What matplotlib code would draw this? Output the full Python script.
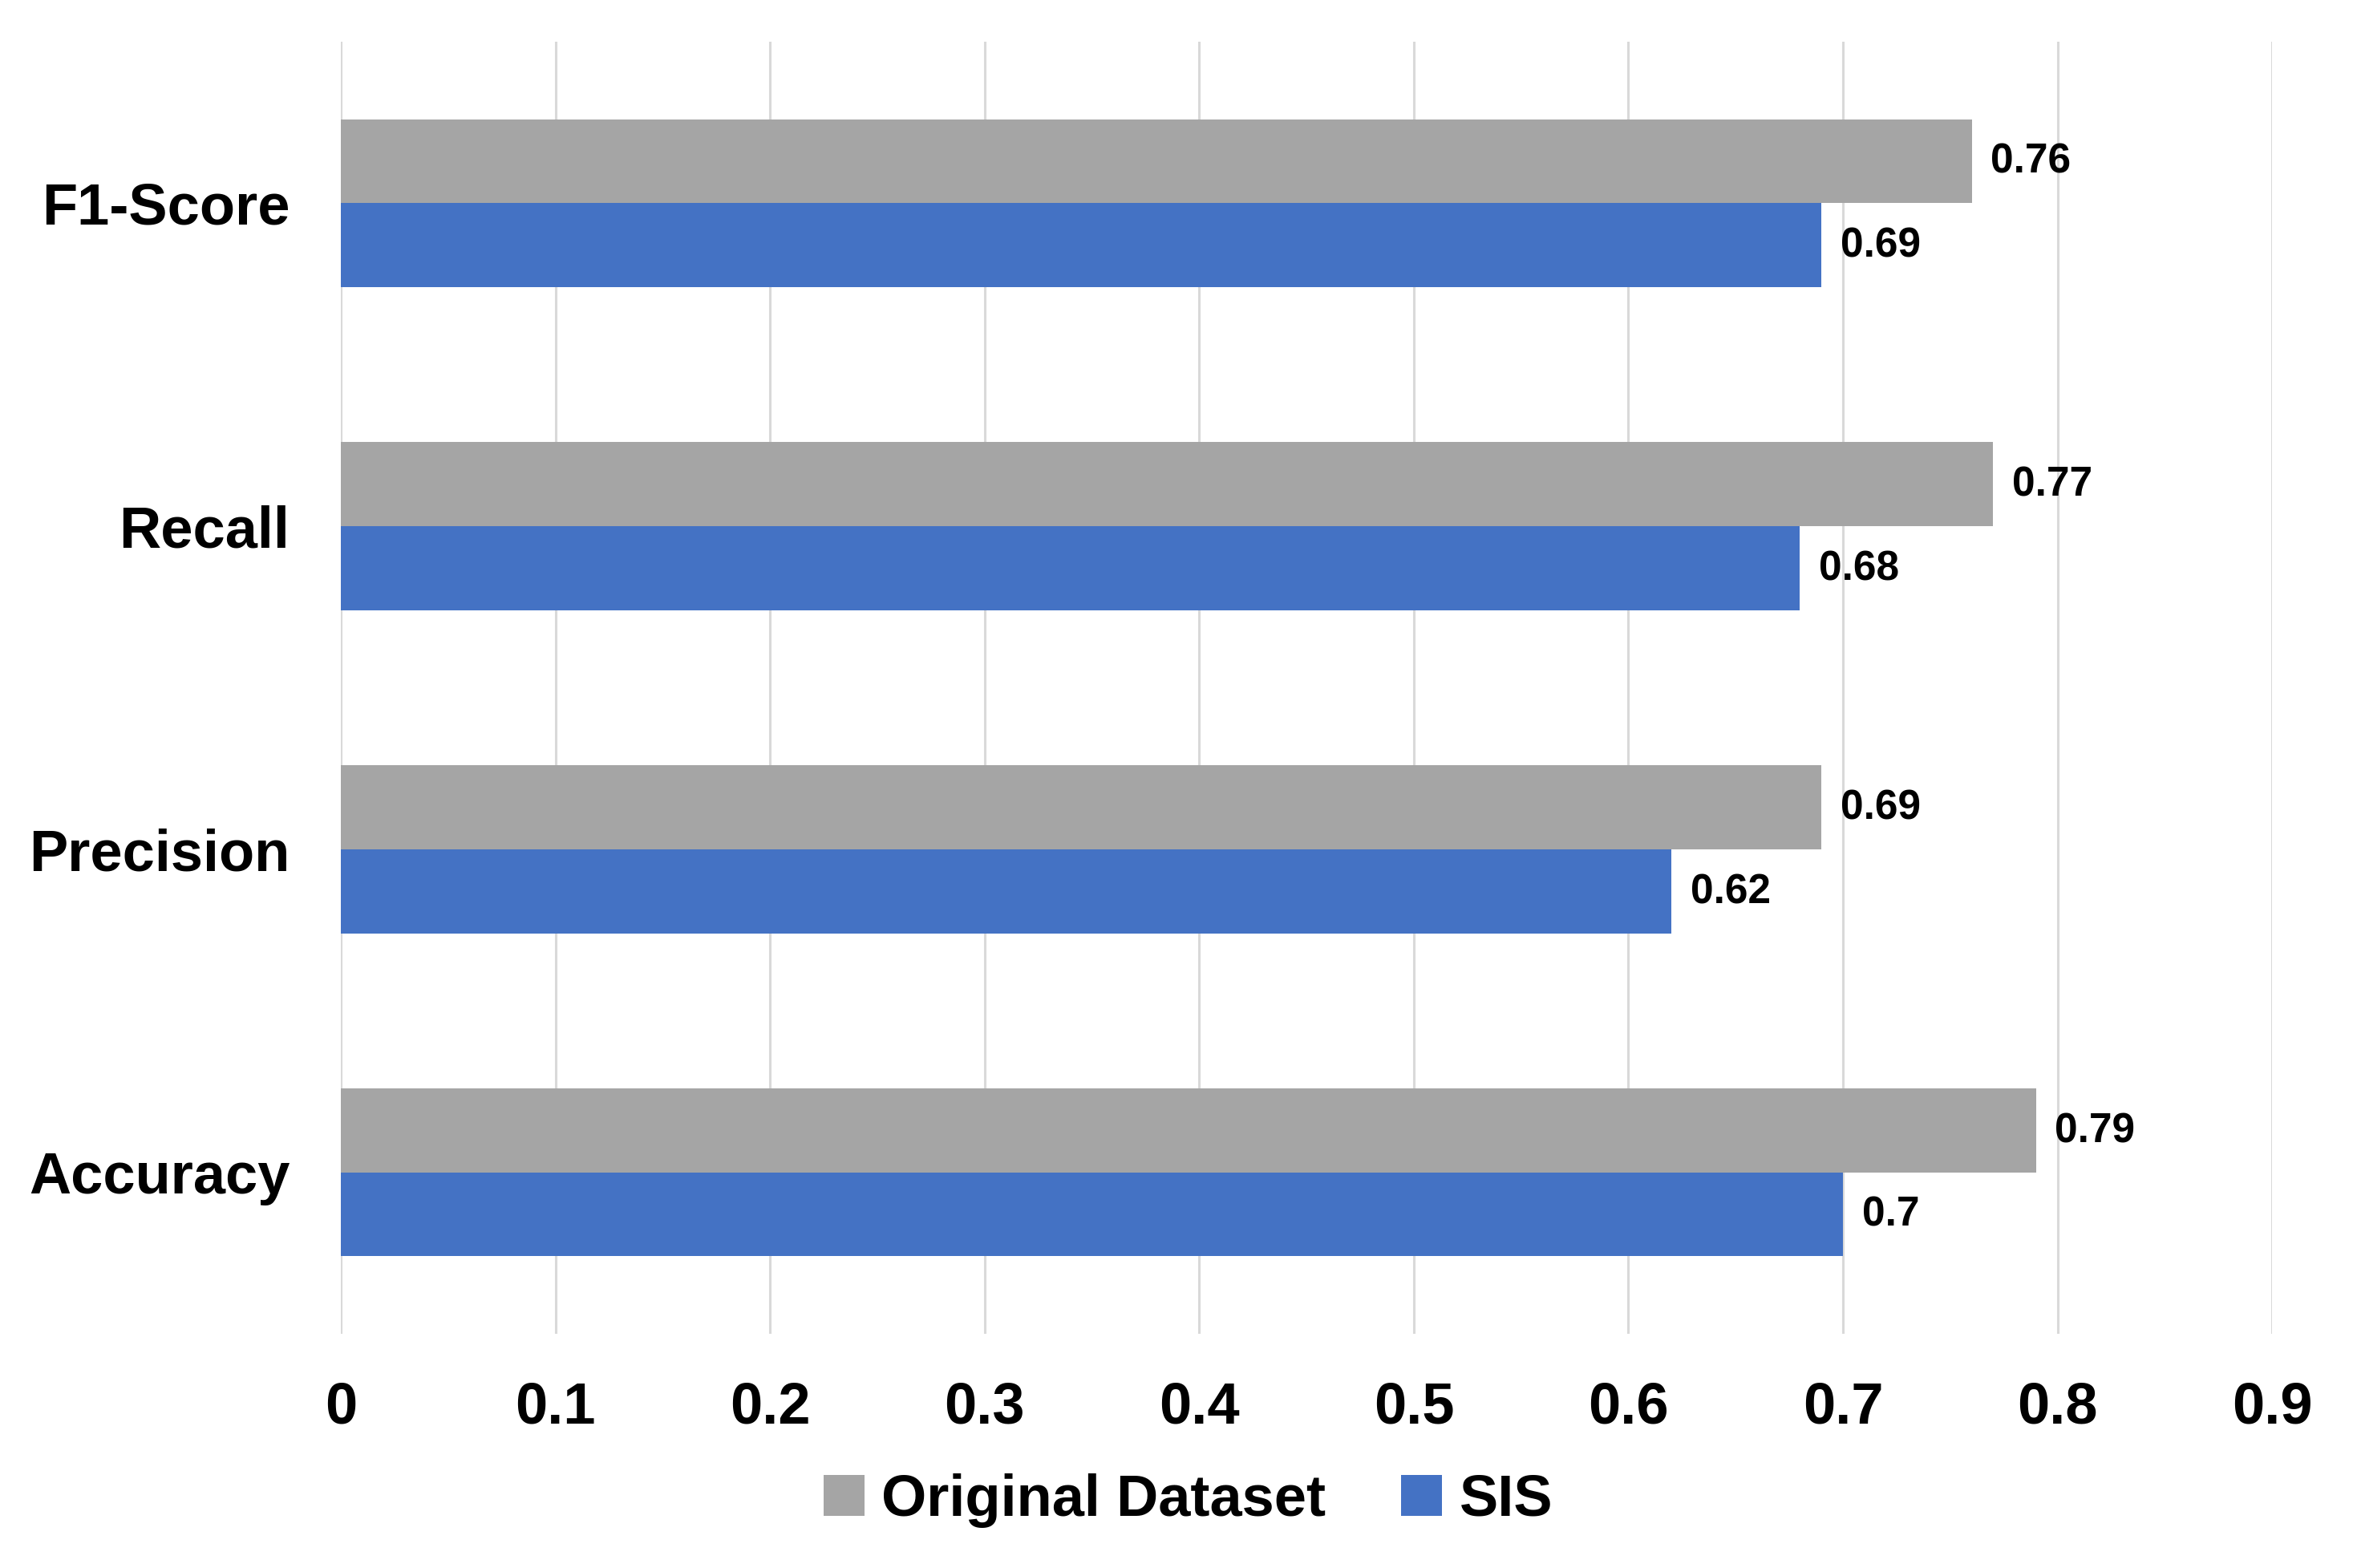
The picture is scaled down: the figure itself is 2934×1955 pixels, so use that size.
import matplotlib
matplotlib.use("Agg")
import matplotlib.pyplot as plt
from matplotlib import font_manager
import numpy as np

# pick a narrow bold sans if there is one
names = {f.name for f in font_manager.fontManager.ttflist}
fam = "Liberation Sans Narrow" if "Liberation Sans Narrow" in names else "Liberation Sans"
plt.rcParams['font.family'] = [fam, 'DejaVu Sans']
plt.rcParams['font.weight'] = 'bold'

metrics = ["Accuracy", "Precision", "Recall", "F1-Score"]
original = [0.79, 0.69, 0.77, 0.76]
sis = [0.70, 0.62, 0.68, 0.69]
series_names = ["Original Dataset", "SIS"]
xticks = [0, 0.1, 0.2, 0.3, 0.4, 0.5, 0.6, 0.7, 0.8, 0.9]

c_gray = "#a5a5a5"
c_blue = "#4472c4"

fig = plt.figure(figsize=(14.67, 9.775), dpi=200)
ax = fig.add_axes([0.1449, 0.1494, 0.8207, 0.824])

y = np.arange(len(metrics))
h = 0.26
b1 = ax.barh(y + h / 2, original, height=h, color=c_gray, label=series_names[0], zorder=3)
b2 = ax.barh(y - h / 2, sis, height=h, color=c_blue, label=series_names[1], zorder=3)

for bars, vals in [(b1, original), (b2, sis)]:
    for rect, v in zip(bars, vals):
        ax.annotate("%g" % v, (v, rect.get_y() + rect.get_height() / 2),
                    xytext=(8.5, -0.5), textcoords="offset points",
                    ha="left", va="center", fontsize=18.5, fontweight="bold")

ax.set_xlim(0, 0.9)
ax.set_ylim(-0.5, len(metrics) - 0.5)
ax.set_xticks(xticks)
ax.set_xticklabels(["%g" % t for t in xticks])
ax.set_yticks(y)
ax.set_yticklabels(metrics)
ax.tick_params(axis="both", length=0, labelsize=26)
ax.tick_params(axis="x", pad=21)
ax.tick_params(axis="y", pad=23)
for lab in ax.get_xticklabels() + ax.get_yticklabels():
    lab.set_fontweight("bold")

ax.grid(axis="x", color="#d9d9d9", linewidth=1.1, zorder=0)
for s in ax.spines.values():
    s.set_visible(False)

leg = fig.legend(handles=[b1, b2], labels=series_names, loc="center",
                 bbox_to_anchor=(0.505, 0.043), ncol=2, frameon=False,
                 fontsize=26, handlelength=0.7, handleheight=0.7,
                 handletextpad=0.3, columnspacing=1.3)
for t in leg.get_texts():
    t.set_fontweight("bold")

fig.savefig("out.png", dpi=200)
